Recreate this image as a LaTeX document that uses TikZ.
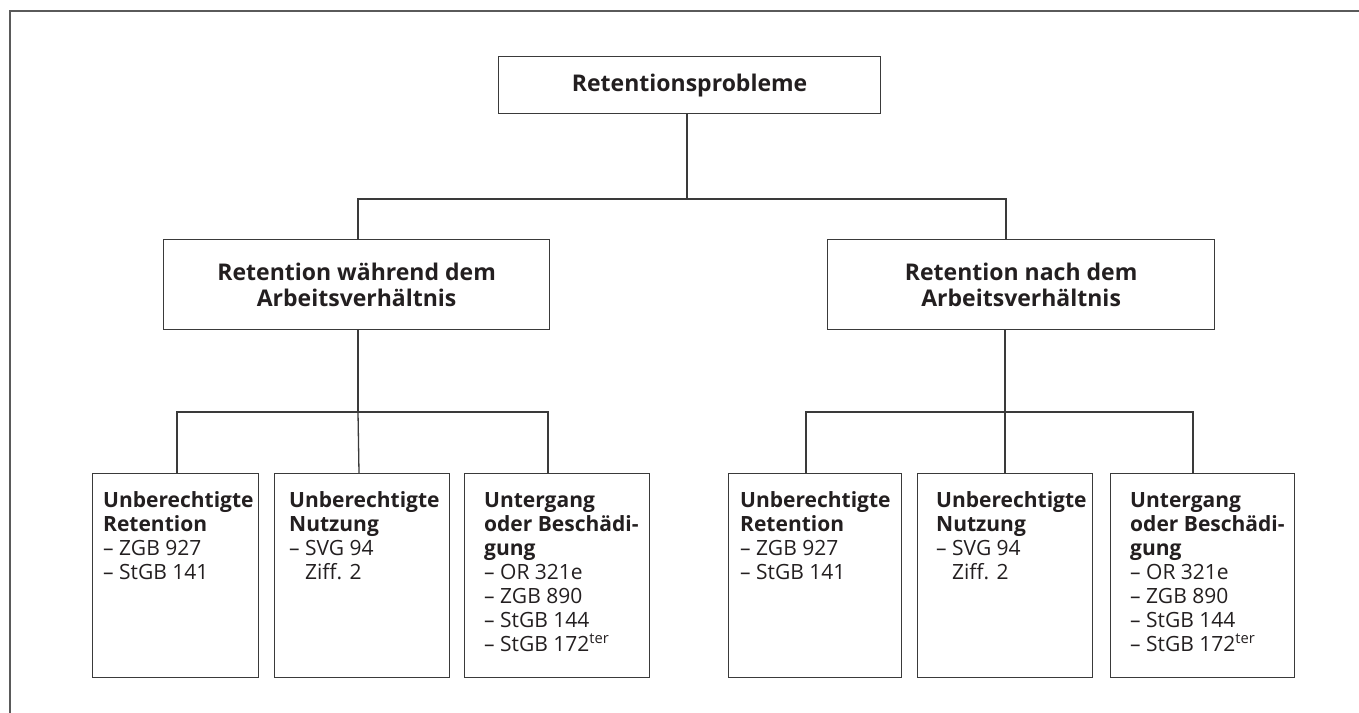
\documentclass[tikz,border=0pt]{standalone}
\usepackage{fontspec}
\setmainfont{Open Sans}
\usetikzlibrary{calc}
\definecolor{ink}{HTML}{231F20}
\definecolor{linec}{HTML}{3A3A3A}
\definecolor{framec}{HTML}{5A5A5A}
\tikzset{
  box/.style={draw=linec, line width=1.3pt, anchor=north west, inner sep=0pt},
  conn/.style={draw=linec, line width=1.3pt},
  ttl/.style={font=\bfseries\fontsize{23}{26}\selectfont, text=ink, align=center},
  ltext/.style={anchor=base west, inner sep=0pt, text=ink, font=\fontsize{21}{24}\selectfont},
  framel/.style={draw=framec, line width=1.4pt}
}
\newcommand{\lbx}[2]{\parbox[t]{#1pt}{\raggedright #2}}
\begin{document}
\begin{tikzpicture}[x=1pt,y=-1pt]
\useasboundingbox (0,0) rectangle (1359,712);
\draw[framel] (10,720) -- (10,11) -- (1370,11);

% top
\node[box, ttl, minimum width=382pt, minimum height=57pt] (top) at (498,56) {Retentionsprobleme};
% middle
\node[box, ttl, minimum width=386pt, minimum height=90pt] (L) at (163,239) {Retention während dem\\Arbeitsverhältnis};
\node[box, ttl, minimum width=387pt, minimum height=90pt] (R) at (827,239) {Retention nach dem\\Arbeitsverhältnis};

% lower boxes
\node[box, minimum width=166pt, minimum height=204pt] (b1) at (92,473) {};
\node[box, minimum width=175pt, minimum height=204pt] (b2) at (274,473) {};
\node[box, minimum width=185pt, minimum height=204pt] (b3) at (464,473) {};
\node[box, minimum width=173pt, minimum height=204pt] (b4) at (728,473) {};
\node[box, minimum width=175pt, minimum height=204pt] (b5) at (917,473) {};
\node[box, minimum width=184pt, minimum height=204pt] (b6) at (1110,473) {};

\node[ltext] (t1) at ($(b1.north west)+(11,34)$) {\lbx{150}{\textbf{Unberechtigte}\\\textbf{Retention}\\– ZGB 927\\– StGB 141}};
\node[ltext] (t2) at ($(b2.north west)+(15,34)$) {\lbx{155}{\textbf{Unberechtigte}\\\textbf{Nutzung}\\– SVG 94\\\phantom{– }Ziff. 2}};
\node[ltext] (t3) at ($(b3.north west)+(20,34)$) {\lbx{160}{\textbf{Untergang}\\\textbf{oder Beschädi-}\\\textbf{gung}\\– OR 321e\\– ZGB 890\\– StGB 144\\– StGB 172\textsuperscript{ter}}};
\node[ltext] (t4) at ($(b4.north west)+(12,34)$) {\lbx{155}{\textbf{Unberechtigte}\\\textbf{Retention}\\– ZGB 927\\– StGB 141}};
\node[ltext] (t5) at ($(b5.north west)+(19,34)$) {\lbx{155}{\textbf{Unberechtigte}\\\textbf{Nutzung}\\– SVG 94\\\phantom{– }Ziff. 2}};
\node[ltext] (t6) at ($(b6.north west)+(20,34)$) {\lbx{160}{\textbf{Untergang}\\\textbf{oder Beschädi-}\\\textbf{gung}\\– OR 321e\\– ZGB 890\\– StGB 144\\– StGB 172\textsuperscript{ter}}};

% connectors
\coordinate (j0) at (687,199);
\coordinate (jL) at (358,412);
\coordinate (jR) at (1005,412);
\draw[conn] (top.south -| j0) -- (j0);
\draw[conn] ($(L.north west)+(195,0)$) |- (j0) -| ($(R.north west)+(179,0)$);
\draw[conn] ($(L.south west)+(195,0)$) -- (jL);
\draw[conn] ($(R.south west)+(178,0)$) -- (jR);
\draw[conn] ($(b1.north west)+(85,0)$) |- (jL) -| ($(b3.north west)+(84,0)$);
\draw[conn] ($(b2.north west)+(85,0)$) -- (jL);
\draw[conn] ($(b4.north west)+(78,0)$) |- (jR) -| ($(b6.north west)+(83,0)$);
\draw[conn] ($(b5.north west)+(88,0)$) -- (jR);
\end{tikzpicture}
\end{document}
